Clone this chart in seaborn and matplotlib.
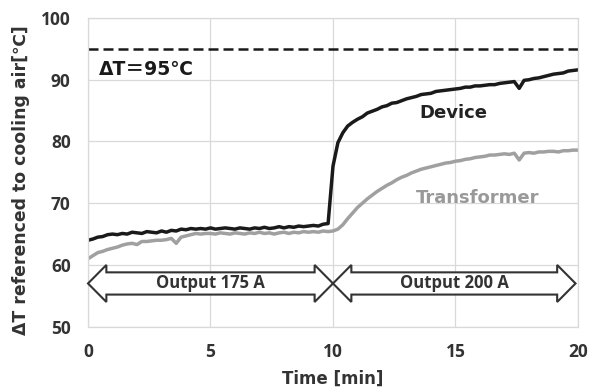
import numpy as np
import matplotlib
matplotlib.use("Agg")
import matplotlib.pyplot as plt
import seaborn as sns
from matplotlib.patches import Polygon
from matplotlib import font_manager as fm

# ---------------- data ----------------
time_min = np.round(np.arange(0, 20.0001, 0.2), 1)

device = [
    64.0, 64.2, 64.5, 64.6, 64.9, 65.0, 64.9, 65.1, 65.0, 65.3,
    65.2, 65.1, 65.4, 65.3, 65.2, 65.5, 65.3, 65.6, 65.5, 65.8,
    65.7, 65.9, 65.8, 65.9, 65.8, 66.0, 65.8, 65.9, 66.0, 65.9,
    65.8, 66.0, 65.9, 65.8, 66.0, 65.9, 66.1, 65.9, 66.0, 66.2,
    66.0, 66.2, 66.1, 66.3, 66.2, 66.3, 66.4, 66.3, 66.6, 66.7,
    76.0, 79.8, 81.4, 82.5, 83.1, 83.6, 84.0, 84.6, 84.9, 85.2,
    85.6, 85.8, 86.2, 86.3, 86.6, 86.9, 87.1, 87.3, 87.6, 87.7,
    87.8, 88.1, 88.2, 88.3, 88.4, 88.5, 88.6, 88.8, 88.8, 89.0,
    89.0, 89.1, 89.2, 89.2, 89.4, 89.5, 89.6, 89.7, 88.6, 89.9,
    90.0, 90.2, 90.3, 90.5, 90.7, 90.9, 91.0, 91.1, 91.4, 91.5,
    91.6,
]

transformer = [
    61.0, 61.5, 62.0, 62.2, 62.5, 62.7, 62.9, 63.2, 63.4, 63.5,
    63.3, 63.8, 63.8, 63.9, 64.0, 64.0, 64.1, 64.3, 63.5, 64.5,
    64.7, 64.9, 65.1, 65.0, 65.1, 65.1, 65.0, 65.2, 65.1, 65.0,
    65.2, 65.1, 65.0, 65.2, 65.1, 65.3, 65.1, 65.2, 65.0, 65.2,
    65.3, 65.1, 65.3, 65.2, 65.4, 65.3, 65.4, 65.3, 65.5, 65.4,
    65.5, 65.8, 66.5, 67.5, 68.4, 69.3, 70.0, 70.7, 71.3, 71.9,
    72.4, 72.9, 73.3, 73.8, 74.2, 74.5, 74.9, 75.2, 75.5, 75.7,
    75.9, 76.1, 76.3, 76.5, 76.6, 76.8, 76.9, 77.1, 77.2, 77.4,
    77.5, 77.6, 77.8, 77.8, 77.9, 78.0, 77.9, 78.1, 77.0, 78.1,
    78.2, 78.1, 78.3, 78.3, 78.4, 78.4, 78.3, 78.5, 78.5, 78.6,
    78.6,
]

limit_value = 95
limit_label = "ΔT＝95℃"
series_labels = ["Device", "Transformer"]
phase_starts = [0.0, 10.0]
phase_ends = [10.0, 19.9]
phase_labels = ["Output 175 A", "Output 200 A"]
x_ticks = [0, 5, 10, 15, 20]
y_ticks = [50, 60, 70, 80, 90, 100]
x_label = "Time [min]"
y_label = "ΔT referenced to cooling air[℃]"

# ---------------- style ----------------
sns.set_theme(style="white")

# choose a Latin family that really has a bold face
bold_fams = {f.name for f in fm.fontManager.ttflist
             if (f.weight in ("bold", 700) or (isinstance(f.weight, int) and f.weight >= 700))}
latin = "DejaVu Sans"
for cand in ["Open Sans", "Noto Sans", "Lato", "Roboto", "Inter"]:
    if cand in bold_fams:
        latin = cand
        break
plt.rcParams["font.family"] = [latin, "Noto Sans CJK JP", "DejaVu Sans"]
plt.rcParams["font.weight"] = "bold"
wide = ["DejaVu Sans", "Noto Sans CJK JP"]

grid_c = "#d9d9d9"
text_c = "#333333"
dev_c = "#1a1a1a"
tr_c = "#a0a0a0"

fig = plt.figure(figsize=(5.89, 3.91), dpi=100)
ax = fig.add_axes([0.1494, 0.1645, 0.8319, 0.7895])

sns.lineplot(x=time_min, y=device, ax=ax, color=dev_c, lw=2.5)
sns.lineplot(x=time_min, y=transformer, ax=ax, color=tr_c, lw=2.5)

ax.axhline(limit_value, color="#1a1a1a", lw=1.8, dashes=(4, 2))

ax.set_xlim(0, 20)
ax.set_ylim(50, 100)
ax.set_xticks(x_ticks)
ax.set_yticks(y_ticks)
ax.tick_params(length=0, labelsize=12.5, colors=text_c)
ax.tick_params(axis="y", pad=12.5)
ax.tick_params(axis="x", pad=11.5)
for lab in ax.get_xticklabels() + ax.get_yticklabels():
    lab.set_fontweight("bold")

ax.grid(True, color=grid_c, lw=0.9)
ax.set_axisbelow(True)
for s in ax.spines.values():
    s.set_visible(True)
    s.set_color(grid_c)
    s.set_linewidth(0.9)

ax.set_xlabel(x_label, fontsize=12, fontweight="bold", color=text_c, family=wide)
ax.set_ylabel(y_label, fontsize=12.4, fontweight="bold", color=text_c, family=wide)
ax.xaxis.set_label_coords(0.5, -0.17)
ax.xaxis.label.set_va("center")
ax.yaxis.set_label_coords(-0.136, 0.475)
ax.yaxis.label.set_va("center")

# annotations
ax.text(0.45, 91.6, limit_label, fontsize=13.5, fontweight="bold", color="#1a1a1a",
        ha="left", va="center", family=wide)
ax.text(14.9, 84.6, series_labels[0], fontsize=13, fontweight="bold", color="#222222",
        ha="center", va="center", family=wide)
ax.text(15.9, 70.8, series_labels[1], fontsize=13, fontweight="bold", color="#999999",
        ha="center", va="center", family=wide)

# double-headed block arrows for the load phases
yc, sh, hh, hl = 57.0, 1.8, 3.0, 0.75
for x0, x1, lab in zip(phase_starts, phase_ends, phase_labels):
    verts = [
        (x0, yc), (x0 + hl, yc + hh), (x0 + hl, yc + sh), (x1 - hl, yc + sh),
        (x1 - hl, yc + hh), (x1, yc), (x1 - hl, yc - hh), (x1 - hl, yc - sh),
        (x0 + hl, yc - sh), (x0 + hl, yc - hh),
    ]
    ax.add_patch(Polygon(verts, closed=True, facecolor="white", edgecolor="#333333",
                         lw=1.5, zorder=3, clip_on=False))
    ax.text((x0 + x1) / 2, yc + 0.1, lab, fontsize=12, fontweight="bold", color="#333333",
            ha="center", va="center", zorder=4)

fig.savefig("out.png", dpi=100)
